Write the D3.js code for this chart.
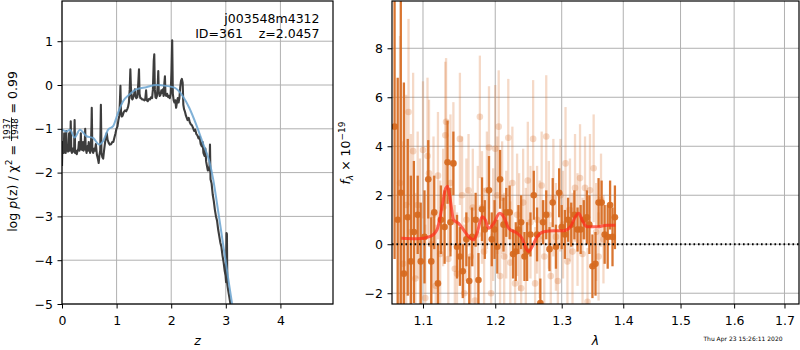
<!DOCTYPE html>
<html>
<head>
<meta charset="utf-8">
<script src="https://cdn.jsdelivr.net/npm/d3@7"></script>
<style>
  body { margin: 0; background: #fff; }
  svg { font-family: "DejaVu Sans", sans-serif; }
  .tick text { font-size: 12.5px; font-family: "DejaVu Sans", sans-serif; fill: #000; }
  .tick line { stroke: #000; stroke-width: 1; }
  .grid { stroke: #b0b0b0; stroke-width: 1; }
</style>
</head>
<body>
<svg id="fig" width="800" height="350"></svg>
<script>
// ---- data ----
const zTicks = [0, 1, 2, 3, 4];
const logPTicks = [-5, -4, -3, -2, -1, 0, 1];
const lamTicks = [1.1, 1.2, 1.3, 1.4, 1.5, 1.6, 1.7];
const fluxTicks = [-2, 0, 2, 4, 6, 8];

const objName = "j003548m4312";
const objInfo = "ID=361    z=2.0457";
const chi2Num = "1937", chi2Den = "1948", chi2Val = "0.99";
const stamp = "Thu Apr 23 15:26:11 2020";

// [z, log p(z)]
const pzCurve = [
  [0.000,-1.85],[0.008,-1.30],[0.016,-1.50],[0.024,-1.45],[0.032,-1.55],[0.040,-1.10],[0.048,-1.50],[0.058,-1.40],
  [0.068,-1.55],[0.078,-1.05],[0.088,-1.50],[0.100,-1.45],[0.112,-1.52],[0.122,-1.40],[0.130,-1.10],[0.140,-1.50],
  [0.150,-1.48],[0.155,-1.10],[0.160,-0.83],[0.165,-1.15],[0.170,-1.50],[0.182,-1.55],[0.196,-1.45],[0.210,-1.52],
  [0.222,-1.50],[0.226,-1.10],[0.231,-0.80],[0.236,-1.15],[0.240,-1.55],[0.255,-1.50],[0.270,-1.58],[0.285,-1.50],
  [0.300,-1.45],[0.310,-1.30],[0.320,-1.50],[0.335,-1.45],[0.345,-1.10],[0.355,-1.45],[0.370,-1.48],[0.385,-1.30],
  [0.395,-1.50],[0.410,-1.45],[0.420,-1.20],[0.425,-1.00],[0.430,-1.25],[0.435,-1.45],[0.450,-1.55],[0.462,-1.40],
  [0.475,-1.50],[0.490,-1.30],[0.500,-1.45],[0.515,-1.55],[0.530,-1.40],[0.540,-0.90],[0.545,-0.52],[0.550,-0.95],
  [0.555,-1.50],[0.571,-1.55],[0.590,-1.45],[0.605,-1.50],[0.620,-1.35],[0.640,-1.60],[0.660,-1.70],[0.672,-1.78],
  [0.685,-1.60],[0.700,-1.50],[0.707,-0.90],[0.712,-0.45],[0.717,-0.95],[0.722,-1.55],[0.740,-1.65],[0.754,-1.68],
  [0.770,-1.50],[0.790,-1.30],[0.805,-1.20],[0.820,-1.10],[0.835,-1.25],[0.855,-1.32],[0.875,-1.36],[0.900,-1.35],
  [0.920,-1.30],[0.940,-1.30],[0.960,-1.20],[0.980,-1.10],[0.997,-1.00],[1.015,-0.95],[1.033,-0.80],[1.050,-0.70],
  [1.060,-0.40],[1.070,-0.02],[1.080,-0.60],[1.095,-0.72],[1.110,-0.70],[1.130,-0.62],[1.155,-0.58],[1.175,-0.60],
  [1.195,-0.55],[1.210,-0.50],[1.225,-0.40],[1.240,-0.10],[1.252,0.36],[1.262,-0.05],[1.275,-0.30],[1.290,-0.33],
  [1.305,-0.28],[1.320,-0.20],[1.335,-0.10],[1.345,-0.25],[1.360,-0.30],[1.380,-0.28],[1.395,0.00],[1.410,0.36],
  [1.420,-0.20],[1.435,-0.30],[1.450,-0.30],[1.470,-0.33],[1.490,-0.33],[1.510,-0.35],[1.525,-0.32],[1.540,-0.12],
  [1.552,-0.35],[1.570,-0.37],[1.590,-0.32],[1.610,-0.33],[1.630,-0.28],[1.650,-0.30],[1.665,-0.10],[1.680,0.55],
  [1.690,0.70],[1.700,-0.10],[1.712,-0.28],[1.725,-0.30],[1.740,-0.25],[1.755,0.05],[1.763,0.32],[1.772,-0.15],
  [1.790,-0.25],[1.805,-0.22],[1.820,-0.12],[1.835,-0.18],[1.848,-0.10],[1.860,-0.25],[1.875,0.05],[1.885,0.20],
  [1.895,-0.22],[1.910,-0.25],[1.925,-0.20],[1.945,-0.28],[1.960,-0.25],[1.975,-0.30],[1.990,-0.20],[2.005,0.30],
  [2.018,1.02],[2.030,-0.20],[2.045,-0.35],[2.060,-0.40],[2.075,-0.35],[2.090,-0.52],[2.105,-0.40],[2.120,-0.30],
  [2.135,-0.40],[2.150,-0.30],[2.165,-0.05],[2.180,0.10],[2.195,0.14],[2.210,0.05],[2.222,-0.45],[2.235,-0.55],
  [2.250,-0.60],[2.270,-0.70],[2.285,-0.75],[2.300,-0.80],[2.320,-0.75],[2.340,-0.85],[2.360,-0.90],[2.380,-0.92],
  [2.400,-0.98],[2.420,-1.05],[2.440,-1.02],[2.460,-1.12],[2.480,-1.15],[2.500,-1.22],[2.520,-1.18],[2.540,-1.35],
  [2.560,-1.40],[2.575,-1.30],[2.590,-1.55],[2.610,-1.62],[2.625,-1.45],[2.640,-1.75],[2.655,-1.85],[2.670,-1.95],
  [2.685,-1.88],[2.700,-1.95],[2.710,-1.36],[2.720,-2.15],[2.740,-2.25],[2.760,-2.50],[2.780,-2.65],[2.800,-2.85],
  [2.820,-3.00],[2.840,-3.10],[2.860,-3.30],[2.880,-3.45],[2.900,-3.60],[2.920,-3.70],[2.940,-3.90],[2.960,-4.05],
  [2.980,-4.25],[2.995,-4.35],[3.005,-4.50],[3.012,-3.38],[3.020,-3.40],[3.028,-4.55],[3.045,-4.70],[3.065,-4.85],
  [3.085,-5.00],[3.110,-5.25],[3.140,-5.50]
];

// smooth prior-like curve [z, log p]
const pzSmooth = [
  [0.000,-1.02],[0.085,-1.06],[0.146,-1.02],[0.231,-1.20],[0.328,-1.02],[0.450,-1.17],[0.571,-1.21],[0.681,-1.36],
  [0.754,-1.28],[0.845,-1.02],[0.936,-0.94],[1.027,-0.63],[1.119,-0.37],[1.240,-0.21],[1.360,-0.10],[1.544,-0.05],
  [1.726,0.00],[1.909,-0.02],[2.060,-0.06],[2.210,-0.25],[2.330,-0.52],[2.456,-0.90],[2.578,-1.32],[2.700,-1.75],
  [2.770,-2.16],[2.820,-2.55],[2.940,-3.55],[3.060,-4.55],[3.140,-5.20]
];

// [lambda, flux, error] -- strong spectrum
const darkSpec = [
  [1.063,4.8,5.4],[1.067,1.0,5.8],[1.071,2.1,8.5],[1.075,-1.2,7.8],[1.080,1.1,3.2],[1.084,-0.7,3.5],
  [1.088,0.5,2.9],[1.093,1.2,1.6],[1.097,-0.7,2.4],[1.102,0.3,1.9],[1.107,2.65,1.6],[1.111,-0.7,1.8],
  [1.115,1.3,1.5],[1.120,-1.6,1.6],[1.124,1.0,1.4],[1.129,0.7,1.5],[1.133,3.35,1.7],[1.137,0.9,1.4],
  [1.141,3.3,1.3],[1.146,-0.1,1.3],[1.150,-0.5,1.2],[1.154,-1.1,1.1],[1.159,0.2,1.1],[1.163,-1.5,1.0],
  [1.167,0.3,1.2],[1.172,1.0,1.1],[1.176,-1.46,1.1],[1.181,1.43,1.3],[1.185,0.6,1.2],[1.191,2.2,1.4],
  [1.195,0.2,1.1],[1.199,0.6,1.2],[1.203,-0.1,1.1],[1.207,2.65,1.2],[1.212,0.8,1.1],[1.216,1.3,1.0],
  [1.221,1.3,1.1],[1.226,-0.4,1.0],[1.230,-0.3,1.2],[1.234,0.6,1.0],[1.238,0.9,1.1],[1.243,-0.5,1.0],
  [1.247,-0.3,1.2],[1.252,0.4,0.9],[1.257,2.0,1.0],[1.262,0.4,1.1],[1.267,-2.4,1.0],[1.271,0.9,0.9],
  [1.276,1.2,1.0],[1.281,-0.2,0.9],[1.286,1.7,1.0],[1.291,-0.1,0.9],[1.296,2.1,1.0],[1.300,0.7,0.9],
  [1.305,0.4,1.0],[1.310,1.0,0.9],[1.315,0.8,0.9],[1.320,1.2,1.0],[1.325,0.6,0.9],[1.330,0.6,1.0],
  [1.335,1.0,0.8],[1.340,1.1,1.1],[1.344,0.8,1.2],[1.349,-0.9,1.3],[1.354,-0.8,1.3],[1.359,1.7,1.0],
  [1.364,1.7,0.9],[1.369,0.4,1.2],[1.374,0.3,1.3],[1.378,1.6,1.0],[1.382,0.3,1.2],[1.386,1.1,1.3]
];

// [lambda, flux, error] -- faint spectrum
const lightSpec = [
  [1.070,2.5,6.0],[1.074,-0.8,5.0],[1.078,1.6,4.5],[1.081,5.4,3.8],[1.084,0.5,4.0],[1.087,3.8,3.2],
  [1.090,-1.4,3.5],[1.093,1.6,3.0],[1.096,0.1,3.4],[1.100,3.85,2.8],[1.103,-2.2,3.0],[1.106,3.6,3.2],
  [1.108,2.9,3.0],[1.111,0.0,2.8],[1.114,1.2,3.2],[1.117,-1.7,2.5],[1.120,2.8,2.6],[1.123,-0.4,3.0],
  [1.127,1.5,2.4],[1.130,4.45,3.0],[1.131,5.0,2.6],[1.134,-0.6,2.5],[1.137,2.5,2.8],[1.141,3.3,2.5],
  [1.143,-1.0,2.6],[1.146,-1.2,2.5],[1.150,4.3,2.7],[1.153,2.0,2.4],[1.156,-2.0,2.8],[1.159,1.0,2.5],
  [1.162,2.2,2.3],[1.165,-0.5,2.6],[1.168,1.5,2.4],[1.171,-2.3,2.5],[1.175,0.4,2.8],[1.178,5.2,2.5],
  [1.181,1.5,2.3],[1.184,-0.3,2.6],[1.188,2.2,2.4],[1.191,3.95,2.5],[1.194,-2.0,2.4],[1.197,0.8,2.3],
  [1.200,3.9,2.6],[1.203,2.0,2.4],[1.205,4.8,2.3],[1.207,-1.3,2.5],[1.210,1.9,2.3],[1.213,-0.5,2.6],
  [1.216,0.8,2.2],[1.219,4.35,2.4],[1.222,-0.75,2.5],[1.225,2.5,2.3],[1.229,-1.6,2.2],[1.232,1.2,2.5],
  [1.235,0.5,2.4],[1.238,-1.8,2.3],[1.241,1.7,2.2],[1.245,-0.2,2.5],[1.248,2.6,2.4],[1.252,0.9,2.3],
  [1.256,4.3,2.4],[1.259,-1.6,2.3],[1.262,1.0,2.2],[1.266,0.2,2.4],[1.269,2.4,2.2],[1.273,-0.5,2.3],
  [1.276,4.4,2.5],[1.280,1.2,2.2],[1.283,-1.3,2.2],[1.287,1.9,2.4],[1.291,0.3,2.2],[1.294,-1.5,2.1],
  [1.298,2.0,2.3],[1.302,0.8,2.2],[1.306,3.3,2.3],[1.309,-0.7,2.2],[1.313,1.4,2.1],[1.317,-0.3,2.4],
  [1.321,2.3,2.2],[1.325,0.6,2.3],[1.329,2.7,2.2],[1.333,-0.4,2.3],[1.337,2.3,2.1],[1.341,-2.35,2.2],
  [1.345,2.2,2.3],[1.351,3.1,2.2],[1.355,0.5,2.0],[1.359,-0.5,1.8],[1.363,1.8,1.9],[1.367,0.2,1.8]
];

// best-fit model [lambda, flux]
const modelSpec = [
  [1.0716,0.24],[1.0921,0.22],[1.1098,0.32],[1.1187,0.59],[1.1255,1.53],[1.1304,2.28],[1.1331,2.37],
  [1.1368,1.80],[1.1413,0.99],[1.1482,0.85],[1.1552,0.58],[1.1622,0.31],[1.1692,0.18],[1.1740,0.45],
  [1.1810,1.12],[1.1858,0.99],[1.1905,0.65],[1.1977,0.85],[1.2064,1.26],[1.2123,1.12],[1.2196,0.65],
  [1.2319,0.45],[1.2394,0.24],[1.2449,-0.16],[1.2494,-0.30],[1.2545,-0.10],[1.2621,0.31],[1.2722,0.51],
  [1.2876,0.55],[1.3031,0.55],[1.3137,0.71],[1.3216,1.12],[1.3269,1.26],[1.3323,0.99],[1.3404,0.71],
  [1.3567,0.71],[1.3732,0.78],[1.3868,0.78]
];

// ---- layout ----
const svg = d3.select("#fig");
const defs = svg.append("defs");

const pzBox = {left: 62, right: 333, top: 1, bottom: 304};
const specBox = {left: 392, right: 799, top: 1, bottom: 304};

const xz = d3.scaleLinear().domain([0, 4.963]).range([pzBox.left, pzBox.right]);
const ylp = d3.scaleLinear().domain([-5, 1.918]).range([pzBox.bottom, pzBox.top]);
const xlam = d3.scaleLog().domain([1.0597, 1.73]).range([specBox.left, specBox.right]);
const yflux = d3.scaleLinear().domain([-2.44, 9.93]).range([specBox.bottom, specBox.top]);

function addClip(id, box) {
  defs.append("clipPath").attr("id", id).append("rect")
    .attr("x", box.left).attr("y", box.top)
    .attr("width", box.right - box.left).attr("height", box.bottom - box.top);
}
addClip("clipPz", pzBox);
addClip("clipSpec", specBox);

function drawGrid(box, xs, ys, xt, yt) {
  const g = svg.append("g");
  g.selectAll("line.gx").data(xt).join("line").attr("class", "grid")
    .attr("x1", d => xs(d)).attr("x2", d => xs(d)).attr("y1", box.top).attr("y2", box.bottom);
  g.selectAll("line.gy").data(yt).join("line").attr("class", "grid")
    .attr("x1", box.left).attr("x2", box.right).attr("y1", d => ys(d)).attr("y2", d => ys(d));
}

function drawAxes(box, xs, ys, xt, yt, xfmt, yfmt) {
  const ax = svg.append("g").attr("transform", `translate(0,${box.bottom})`)
    .call(d3.axisBottom(xs).tickValues(xt).tickFormat(xfmt).tickSize(4.5).tickPadding(7.5));
  const ay = svg.append("g").attr("transform", `translate(${box.left},0)`)
    .call(d3.axisLeft(ys).tickValues(yt).tickFormat(yfmt).tickSize(4.5).tickPadding(4.5));
  ax.select(".domain").remove();
  ay.select(".domain").remove();
  svg.append("rect")
    .attr("x", box.left).attr("y", box.top)
    .attr("width", box.right - box.left).attr("height", box.bottom - box.top)
    .attr("fill", "none").attr("stroke", "#000").attr("stroke-width", 1.2);
}

// ---- left panel: p(z) ----
drawGrid(pzBox, xz, ylp, zTicks, logPTicks);

const pzLine = d3.line().x(d => xz(d[0])).y(d => ylp(d[1]));
const pzG = svg.append("g").attr("clip-path", "url(#clipPz)");
pzG.append("path").datum(pzCurve).attr("d", pzLine)
  .attr("fill", "none").attr("stroke", "#333").attr("stroke-opacity", 0.95)
  .attr("stroke-width", 2.1).attr("stroke-linejoin", "round");
pzG.append("path").datum(pzSmooth).attr("d", d3.line().curve(d3.curveMonotoneX).x(d => xz(d[0])).y(d => ylp(d[1])))
  .attr("fill", "none").attr("stroke", "#6aa3d0").attr("stroke-opacity", 0.85)
  .attr("stroke-width", 2);

drawAxes(pzBox, xz, ylp, zTicks, logPTicks, d3.format("d"), d3.format("d"));

svg.append("text").attr("x", 319.5).attr("y", 23.3).attr("text-anchor", "end")
  .attr("font-size", 12.5).text(objName);
svg.append("text").attr("x", 319.5).attr("y", 38.3).attr("text-anchor", "end")
  .attr("font-size", 12.5).style("white-space", "pre").text(objInfo);

svg.append("text").attr("x", 197.5).attr("y", 345).attr("text-anchor", "middle")
  .attr("font-size", 12.5).attr("font-style", "italic").text("z");

// rotated y label with a stacked fraction
const ylab = svg.append("g");
const t1 = ylab.append("text").attr("x", 0).attr("y", 0).attr("font-size", 12.5).style("white-space", "pre");
t1.append("tspan").text("log ");
t1.append("tspan").attr("font-style", "italic").text("p");
t1.append("tspan").text("(z) / χ");
t1.append("tspan").attr("dy", -5).attr("font-size", 9).text("2");
t1.append("tspan").attr("dy", 5).text(" = ");
const w1 = t1.node().getComputedTextLength();
const num = ylab.append("text").attr("y", -6.3).attr("font-size", 8.5).attr("text-anchor", "middle").text(chi2Num);
const den = ylab.append("text").attr("y", 1.3).attr("font-size", 8.5).attr("text-anchor", "middle").text(chi2Den);
const fw = Math.max(num.node().getComputedTextLength(), den.node().getComputedTextLength()) + 2;
num.attr("x", w1 + fw / 2);
den.attr("x", w1 + fw / 2);
ylab.append("line").attr("x1", w1).attr("x2", w1 + fw).attr("y1", -5.2).attr("y2", -5.2)
  .attr("stroke", "#000").attr("stroke-width", 0.8);
const t3 = ylab.append("text").attr("x", w1 + fw).attr("y", 0).attr("font-size", 12.5)
  .style("white-space", "pre").text(" = " + chi2Val);
const total = w1 + fw + t3.node().getComputedTextLength();
ylab.attr("transform", `translate(16.7,${151.5 + total / 2}) rotate(-90)`);

// ---- right panel: spectrum ----
drawGrid(specBox, xlam, yflux, lamTicks, fluxTicks);

const specG = svg.append("g").attr("clip-path", "url(#clipSpec)");
const orange = "#d6691e";

function drawErrors(data, opacity) {
  const g = specG.append("g");
  g.selectAll("line").data(data).join("line")
    .attr("x1", d => xlam(d[0])).attr("x2", d => xlam(d[0]))
    .attr("y1", d => yflux(d[1] - d[2])).attr("y2", d => yflux(d[1] + d[2]))
    .attr("stroke", orange).attr("stroke-opacity", opacity).attr("stroke-width", 2.3);
  g.selectAll("circle").data(data).join("circle")
    .attr("cx", d => xlam(d[0])).attr("cy", d => yflux(d[1])).attr("r", 3.3)
    .attr("fill", orange).attr("fill-opacity", opacity);
}
drawErrors(lightSpec, 0.25);
drawErrors(darkSpec, 0.92);

specG.append("path").datum(modelSpec)
  .attr("d", d3.line().curve(d3.curveMonotoneX).x(d => xlam(d[0])).y(d => yflux(d[1])))
  .attr("fill", "none").attr("stroke", "#ff2a1a").attr("stroke-opacity", 0.7)
  .attr("stroke-width", 3).attr("stroke-linejoin", "round");

specG.append("line")
  .attr("x1", specBox.left).attr("x2", specBox.right)
  .attr("y1", yflux(0)).attr("y2", yflux(0))
  .attr("stroke", "#000").attr("stroke-width", 1.8).attr("stroke-dasharray", "1.6 2.9");

drawAxes(specBox, xlam, yflux, lamTicks, fluxTicks, d3.format(".1f"), d3.format("d"));

svg.append("text").attr("x", 595.5).attr("y", 345).attr("text-anchor", "middle")
  .attr("font-size", 12.5).attr("font-style", "italic").text("λ");

const flab = svg.append("text").attr("transform", "translate(350,153) rotate(-90)")
  .attr("text-anchor", "middle").attr("font-size", 12.5);
flab.append("tspan").attr("font-style", "italic").text("f");
flab.append("tspan").attr("dy", 3).attr("font-size", 9).attr("font-style", "italic").text("λ");
flab.append("tspan").attr("dy", -3).text(" × 10");
flab.append("tspan").attr("dy", -5).attr("font-size", 9).text("−19");

svg.append("text").attr("x", 743).attr("y", 340.5).attr("text-anchor", "middle")
  .attr("font-size", 6).attr("fill", "#000").text(stamp);
</script>
</body>
</html>
